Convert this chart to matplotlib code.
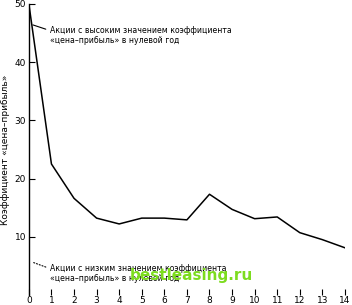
import matplotlib.pyplot as plt

# годы после нулевого и коэффициент «цена-прибыль»
years = [0, 1, 2, 3, 4, 5, 6, 7, 8, 9, 10, 11, 12, 13, 14]
pe_ratio = [50, 22.5, 16.6, 13.2, 12.2, 13.2, 13.2, 12.9, 17.3, 14.7, 13.1, 13.4, 10.7, 9.5, 8.1]
yticks = [10, 20, 30, 40, 50]

label_high = 'Акции с высоким значением коэффициента\n«цена–прибыль» в нулевой год'
label_low = 'Акции с низким значением коэффициента\n«цена–прибыль» в нулевой год'

fig = plt.figure(figsize=(3.52, 3.05), dpi=100)
ax = fig.add_axes([0.082, 0.033, 0.898, 0.954])
ax.plot(years, pe_ratio, color='black', lw=1.1)
ax.set_xlim(0, 14)
ax.set_ylim(0, 50)
ax.set_xticks(years)
ax.set_yticks(yticks)
ax.tick_params(direction='in', labelsize=6.5, length=4, width=0.8, pad=2)
ax.tick_params(axis='x', pad=1)
for s in ['top', 'right', 'bottom']:
    ax.spines[s].set_visible(False)
ax.spines['left'].set_linewidth(1.0)
ax.set_ylabel('Коэффициент «цена–прибыль»', fontsize=6.5, labelpad=3)

ax.annotate(label_high, xy=(0.18, 46.4), xytext=(0.93, 44.6), fontsize=5.6,
            va='center', ha='left',
            arrowprops=dict(arrowstyle='-', color='black', lw=0.8,
                            relpos=(0, 0.75), shrinkA=1, shrinkB=0))
ax.annotate(label_low, xy=(0.18, 5.6), xytext=(0.93, 3.7), fontsize=5.6,
            va='center', ha='left',
            arrowprops=dict(arrowstyle='-', color='black', lw=0.8, ls=':',
                            relpos=(0, 0.75), shrinkA=1, shrinkB=0))
ax.text(7.2, 3.3, 'bestleasing.ru', color='#7ddc1f', fontsize=11,
        fontweight='bold', ha='center', va='center')

fig.savefig('out.png', dpi=100)
